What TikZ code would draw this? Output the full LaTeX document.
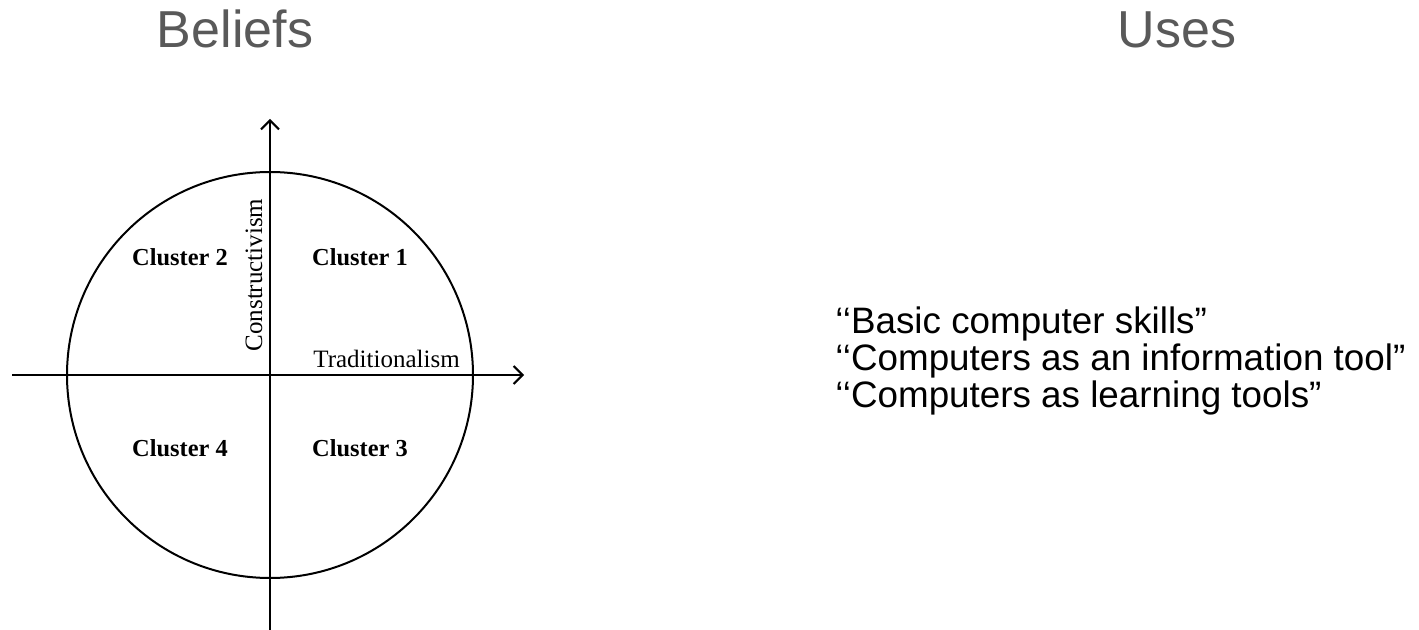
\documentclass[tikz,border=0pt]{standalone}
\usepackage{fontspec}
\setmainfont{Liberation Serif}
\newfontfamily\arialfont{Liberation Sans}
\usetikzlibrary{arrows.meta}
\definecolor{headgray}{HTML}{595959}
\begin{document}
\begin{tikzpicture}[x=0.5pt,y=-0.5pt,
  axis/.style={line width=1pt,-{Straight Barb[length=4.5pt,width=9pt,line width=1pt]}},
  rim/.style={line width=1pt},
  clusterlbl/.style={font=\fontsize{12.2}{14}\selectfont\bfseries,inner sep=0pt},
  axislbl/.style={font=\fontsize{12.5}{15}\selectfont,inner sep=0pt},
  heading/.style={font=\arialfont\fontsize{26}{30}\selectfont,text=headgray,inner sep=0pt,anchor=base},
  uselist/.style={font=\arialfont\fontsize{18.4}{19}\selectfont,inner sep=0pt,anchor=base west,align=left}]
\useasboundingbox (0,0) rectangle (1419,630);

% column headings
\node[heading] (beliefs) at (235,48) {Beliefs};
\node[heading] (uses) at (1177,48) {Uses};

% belief quadrants
\coordinate (o) at (270,375);
\draw[rim] (o) circle[radius=203];
\coordinate (xl) at (12,375);
\coordinate (xr) at (524,375);
\coordinate (yb) at (270,630);
\coordinate (yt) at (270,119);
\draw[axis] (xl) -- (xr);
\draw[axis] (yb) -- (yt);

\node[clusterlbl] (c2) at (180,257) {Cluster 2};
\node[clusterlbl] (c1) at (360,257) {Cluster 1};
\node[clusterlbl] (c4) at (180,448) {Cluster 4};
\node[clusterlbl] (c3) at (360,448) {Cluster 3};

\node[axislbl,rotate=90,anchor=base] (constr) at (262,275) {Constructivism};
\node[axislbl,anchor=base west] (trad) at (313,368) {Traditionalism};

% uses of computers
\node[uselist] (u1) at (835,334) {‘‘Basic computer skills”};
\node[uselist] (u2) at (835,371) {‘‘Computers as an information tool”};
\node[uselist] (u3) at (835,408) {‘‘Computers as learning tools”};
\end{tikzpicture}
\end{document}
